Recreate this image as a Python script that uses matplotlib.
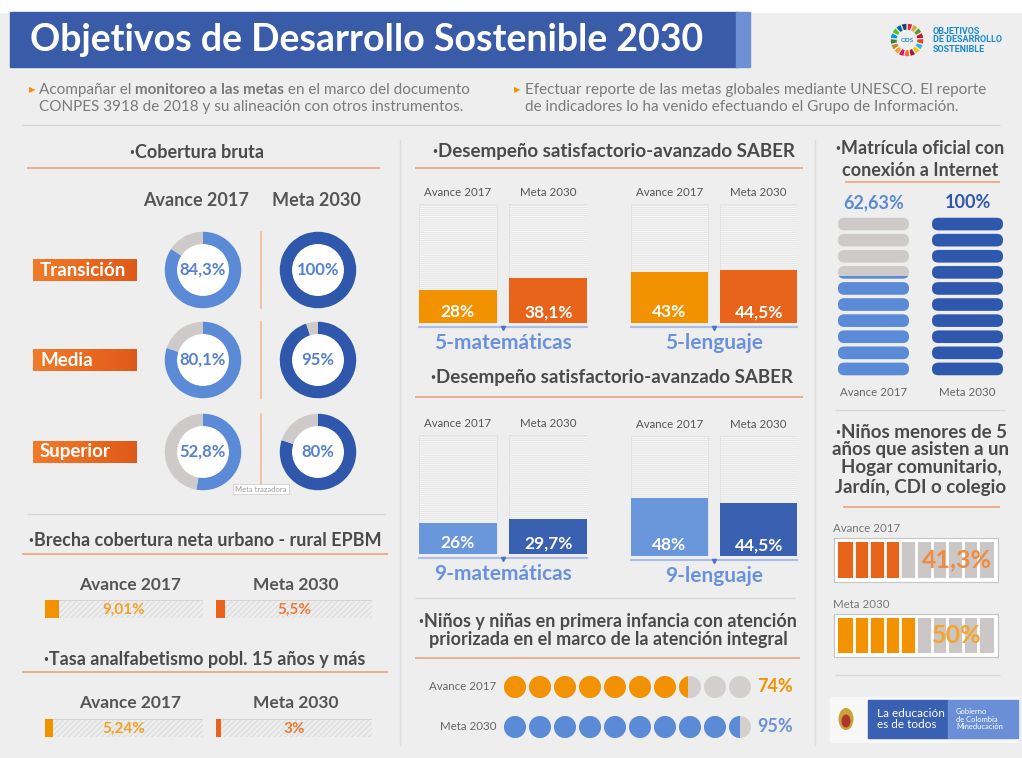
import numpy as np
import matplotlib
matplotlib.use("Agg")
import matplotlib.pyplot as plt
from matplotlib.colors import LinearSegmentedColormap
from matplotlib.patches import Rectangle, FancyBboxPatch, Circle, Ellipse

W, H = 1022, 758

cob_levels = ["Transición", "Media", "Superior"]
cob_avance = [84.3, 80.1, 52.8]
cob_meta = [100, 95, 80]

saber_top = ["5-matemáticas", "5-lenguaje"]
saber_top_avance = [28, 43]
saber_top_meta = [38.1, 44.5]
saber_bot = ["9-matemáticas", "9-lenguaje"]
saber_bot_avance = [26, 48]
saber_bot_meta = [29.7, 44.5]

brecha = [9.01, 5.5]          # avance 2017, meta 2030
analfab = [5.24, 3]
internet = [62.63, 100]
primera_inf = [74, 95]
hogar = [41.3, 50]

series_names = ["Avance 2017", "Meta 2030"]

# ---- colours ----
BG = "#eeeeee"
BLUE_HDR = "#3a5ba8"
ORANGE = "#e8641b"
ORANGE_L = "#f39200"
BLUE_L = "#5b8ad6"
BLUE_D = "#2f58ad"
GREY = "#cfcaca"
TXT = "#4a4a4a"
LINE_OR = "#eba27c"
BUL = "\u2219"

plt.rcParams["font.family"] = ["Lato", "DejaVu Sans"]
plt.rcParams["hatch.linewidth"] = 0.5


def fmt(v):
    return f"{v:g}".replace(".", ",") + "%"


fig = plt.figure(figsize=(W / 100, H / 100), dpi=100)
fig.patch.set_facecolor(BG)
bg = fig.add_axes([0, 0, 1, 1])
bg.set_xlim(0, W)
bg.set_ylim(H, 0)
bg.axis("off")


def sub_axes(x0, y0, x1, y1):
    a = fig.add_axes([x0 / W, 1 - y1 / H, (x1 - x0) / W, (y1 - y0) / H])
    a.axis("off")
    return a


def hline(x0, x1, y, color=LINE_OR, lw=1.2):
    bg.plot([x0, x1], [y, y], color=color, lw=lw, solid_capstyle="butt")


def title(xc, y, text, size=13):
    bg.text(xc, y, text, ha="center", va="center", fontsize=size,
            weight="bold", color=TXT)


# ---- header ----
bg.add_patch(Rectangle((0, 0), W, 12, color="white"))
bg.add_patch(Rectangle((10, 12), 728, 55, color=BLUE_HDR))
bg.add_patch(Rectangle((736, 12), 14, 55, color="#6d8fd3"))
bg.text(30, 40, "Objetivos de Desarrollo Sostenible 2030", color="white",
        fontsize=27, weight="bold", va="center")

sdg = ["#E5243B", "#DDA63A", "#4C9F38", "#C5192D", "#FF3A21", "#26BDE2",
       "#FCC30B", "#A21942", "#FD6925", "#DD1367", "#FD9D24", "#BF8B2E",
       "#3F7E44", "#0A97D9", "#56C02B", "#00689D", "#19486A"]
la = sub_axes(886, 19, 928, 61)
la.pie([1] * 17, colors=sdg, startangle=90, counterclock=False,
       wedgeprops=dict(width=0.42, edgecolor=BG, lw=0.8))
la.text(0, 0, "ODS", ha="center", va="center", fontsize=4.5,
        color="#1a8bd0", weight="bold")
bg.text(933, 40, "OBJETIVOS\nDE DESARROLLO\nSOSTENIBLE", ha="left", va="center",
        fontsize=6.5, weight="bold", color="#1a8bd0", linespacing=1.0,
        family="Roboto")

# ---- intro text ----
renderer = fig.canvas.get_renderer()


def rich(x, y, parts, **kw):
    for s, w in parts:
        t = bg.text(x, y, s, weight=w, **kw)
        x += t.get_window_extent(renderer=renderer).width


sub_kw = dict(fontsize=11, color="#7a7a7a", va="center")
for bx in (29, 514):
    bg.text(bx, 90, "\u25B6", fontsize=6, color=ORANGE_L, va="center",
            family="DejaVu Sans")
rich(39, 90, [("Acompañar el ", "normal"), ("monitoreo a las metas", "bold"),
              (" en el marco del documento", "normal")], **sub_kw)
bg.text(39, 107, "CONPES 3918 de 2018 y su alineación con otros instrumentos.",
        **sub_kw)
bg.text(525, 90, "Efectuar reporte de las metas globales mediante UNESCO. El reporte",
        **sub_kw)
bg.text(525, 107, "de indicadores lo ha venido efectuando el Grupo de Información.",
        **sub_kw)
hline(22, 1000, 125, color="#d6d6d6", lw=1)

# column dividers
bg.plot([400, 400], [140, 745], color="#dddddd", lw=1)
bg.plot([815, 815], [140, 745], color="#dddddd", lw=1)

# ---- Cobertura bruta ----
title(197, 152, BUL + "Cobertura bruta")
hline(27, 380, 168)
bg.text(196, 201, series_names[0], ha="center", va="center", fontsize=13,
        weight="bold", color="#555555")
bg.text(316, 201, series_names[1], ha="center", va="center", fontsize=13,
        weight="bold", color="#555555")
label_cmap = LinearSegmentedColormap.from_list("lab", ["#f07a2a", "#ea6a1f", "#de5a1a"])
grad = np.linspace(0, 1, 64).reshape(1, -1)
row_y = [270, 360, 452]
for lvl, va_, vm, y in zip(cob_levels, cob_avance, cob_meta, row_y):
    bg.imshow(grad, cmap=label_cmap, extent=(33, 137, y + 11, y - 11),
              aspect="auto", interpolation="bilinear")
    bg.text(40, y, lvl, color="white", fontsize=13.5, weight="bold", va="center")
    bg.plot([261, 261], [y - 38, y + 38], color="#efb796", lw=1.2)
    for cx, v, col in ((203, va_, BLUE_L), (318, vm, BLUE_D)):
        a = sub_axes(cx - 39, y - 39, cx + 39, y + 39)
        a.pie([v, 100 - v], colors=[col, GREY], startangle=90, counterclock=False,
              wedgeprops=dict(width=0.34, edgecolor="none"))
        a.add_patch(Circle((0, 0), 0.66, color="white"))
        a.set_xlim(-1.02, 1.02)
        a.set_ylim(-1.02, 1.02)
        a.set_aspect("equal")
        a.text(0, 0, fmt(v), ha="center", va="center", fontsize=12,
               weight="bold", color="#5680d0")
bg.set_xlim(0, W)
bg.set_ylim(H, 0)
bg.text(261, 489, "Meta trazadora", ha="center", va="center", fontsize=5.5,
        color="#9a9a9a", bbox=dict(boxstyle="square,pad=0.25", fc="white",
                                   ec="#d0d0d0", lw=0.6))
hline(27, 385, 514, color="#d6d6d6", lw=1)


# ---- progress bars (brecha / analfabetismo) ----
def progress(x0, x1, y0, y1, value, color, tcolor):
    a = sub_axes(x0, y0, x1, y1)
    a.set_xlim(0, 100)
    a.set_ylim(0, 1)
    a.barh(0.5, 100, height=1, color="#ededed", edgecolor="#d4d4d4",
           hatch="//////", lw=0.7)
    a.barh(0.5, value, height=1, color=color)
    a.text(50, 0.45, fmt(value), ha="center", va="center", color=tcolor,
           weight="bold", fontsize=11)


def progress_block(ytitle, text, yline, yhead, ybar, vals):
    title(205, ytitle, text)
    hline(22, 388, yline)
    bg.text(130, yhead, series_names[0], ha="center", va="center", fontsize=12.5,
            weight="bold", color="#555555")
    bg.text(296, yhead, series_names[1], ha="center", va="center", fontsize=12.5,
            weight="bold", color="#555555")
    progress(45, 203, ybar, ybar + 18, vals[0], ORANGE_L, "#f2a227")
    progress(216, 372, ybar, ybar + 18, vals[1], ORANGE, "#ec7a35")


progress_block(541, BUL + "Brecha cobertura neta urbano - rural EPBM", 554, 585, 600, brecha)
progress_block(659, BUL + "Tasa analfabetismo pobl. 15 años y más", 672, 703, 719, analfab)


# ---- SABER bars ----
def saber_pair(x0, x1, y0, y1, vals, colors, name):
    a = sub_axes(x0, y0, x1, y1)
    w = 0.857
    pos = [0, 1]
    a.set_xlim(-w / 2, 1 + w / 2)
    a.set_ylim(0, 100)
    a.bar(pos, [100, 100], width=w, color="#f5f5f5", edgecolor="#e1e1e1",
          hatch="--------", lw=0.6)
    a.bar(pos, vals, width=w, color=colors)
    for p, v, lab in zip(pos, vals, series_names):
        a.text(p, 9, fmt(v), ha="center", va="center", color="white",
               weight="bold", fontsize=12.5)
        a.text(p, 110, lab, ha="center", va="center", fontsize=8.3,
               color="#555555", clip_on=False)
    a.plot([-w / 2, 1 + w / 2], [-3.5, -3.5], color="#aabfe8", lw=1.5,
           clip_on=False)
    a.plot([0.5], [-4.5], marker="v", color="#4a76c8", ms=3, clip_on=False)
    a.text(0.5, -17, name, ha="center", va="center", fontsize=15,
           weight="bold", color="#6a92dc", clip_on=False)


title(614, 152, BUL + "Desempeño satisfactorio-avanzado SABER", size=13.5)
hline(415, 803, 168)
saber_pair(419, 587, 204, 323, [saber_top_avance[0], saber_top_meta[0]],
           [ORANGE_L, ORANGE], saber_top[0])
saber_pair(631, 797, 204, 323, [saber_top_avance[1], saber_top_meta[1]],
           [ORANGE_L, ORANGE], saber_top[1])

title(612, 378, BUL + "Desempeño satisfactorio-avanzado SABER", size=13.5)
hline(415, 803, 397)
saber_pair(419, 587, 435, 554, [saber_bot_avance[0], saber_bot_meta[0]],
           ["#6a96dc", "#3a60b2"], saber_bot[0])
saber_pair(631, 797, 436, 556, [saber_bot_avance[1], saber_bot_meta[1]],
           ["#6a96dc", "#3a60b2"], saber_bot[1])

# ---- primera infancia dots ----
hline(415, 795, 598, color="#d6d6d6", lw=1)
title(608, 622, BUL + "Niños y niñas en primera infancia con atención")
title(608, 640, "priorizada en el marco de la atención integral")
hline(415, 800, 658)
dot_rows = [(687, ORANGE_L, ORANGE_L), (727, BLUE_L, "#6a92dc")]
r = 11
for (y, col, tcol), name, v in zip(dot_rows, series_names, primera_inf):
    bg.text(496, y, name, ha="right", va="center", fontsize=8.3, color="#666666")
    for i in range(10):
        cx = 515 + 25 * i
        frac = min(max(v / 10 - i, 0), 1)
        bg.add_patch(Circle((cx, y), r, color="#d3cfcf", lw=0))
        if frac > 0:
            c = Circle((cx, y), r, color=col, lw=0)
            bg.add_patch(c)
            clip = Rectangle((cx - r, y - r), 2 * r * frac, 2 * r,
                             transform=bg.transData)
            c.set_clip_path(clip)
    bg.text(757, y, fmt(v), ha="left", va="center", fontsize=13,
            weight="bold", color=tcol)

# ---- Matrícula con internet ----
title(920, 148, BUL + "Matrícula oficial con")
title(920, 170, "conexión a Internet")
hline(845, 1000, 182)
pill_top, pill_bot = 216, 377
slot = (pill_bot - pill_top) / 10
ph = slot * 0.78
for (x0, x1), v, col, name in zip([(838, 909), (932, 1003)], internet,
                                  [BLUE_L, BLUE_D], series_names):
    level = pill_bot - (pill_bot - pill_top) * v / 100
    for i in range(10):
        py = pill_top + i * slot + (slot - ph) / 2
        style = f"round,pad=0,rounding_size={ph / 2}"
        bg.add_patch(FancyBboxPatch((x0, py), x1 - x0, ph, boxstyle=style,
                                    fc=GREY, ec="none"))
        p = FancyBboxPatch((x0, py), x1 - x0, ph, boxstyle=style,
                           fc=col, ec="none")
        bg.add_patch(p)
        p.set_clip_path(Rectangle((x0 - 2, level), x1 - x0 + 4, pill_bot - level + 2,
                                  transform=bg.transData))
    xc = (x0 + x1) / 2
    bg.text(xc, 203, fmt(v), ha="center", va="center", fontsize=13,
            weight="bold", color=col)
    bg.text(xc, 392, name, ha="center", va="center", fontsize=8.3,
            color="#666666")
hline(835, 1005, 410, color="#d6d6d6", lw=1)

# ---- Niños menores de 5 años ----
for y, line in zip([432, 450, 468, 487], [BUL + "Niños menores de 5", "años que asisten a un",
                                          "Hogar comunitario,", "Jardín, CDI o colegio"]):
    title(921, y, line, size=13.5)
hline(843, 1000, 507)
for (ylab, y0, y1), name, v, col, tcol in zip(
        [(528, 538, 582), (605, 614, 657)], series_names, hogar,
        [ORANGE, ORANGE_L], ["#f08a3f", "#f5a52a"]):
    bg.text(833, ylab, name, ha="left", va="center", fontsize=8.3, color="#777777")
    bg.add_patch(Rectangle((834, y0), 164, y1 - y0, fc="white", ec="#c4c4c4", lw=0.8))
    a = sub_axes(838, y0 + 4, 994, y1 - 4)
    a.set_xlim(0, 100)
    a.set_ylim(0, 1)
    a.barh(0.5, 100, height=1, color="#cbc7c7")
    a.barh(0.5, v, height=1, color=col)
    for k in range(1, 10):
        a.axvline(10 * k, color="white", lw=2)
    a.text(76, 0.5, fmt(v), ha="center", va="center", fontsize=18,
           weight="bold", color=tcol)
hline(835, 1000, 675, color="#d6d6d6", lw=1)

# ---- bottom logo ----
bg.add_patch(Rectangle((830, 697), 188, 46, fc="#f7f7f7", ec="none"))
bg.add_patch(Ellipse((846, 719), 15, 22, fc="#c9a23a", ec="none"))
bg.add_patch(Ellipse((846, 721), 9, 13, fc="#b2352c", ec="none"))
bg.add_patch(Rectangle((868, 700), 80, 38, color="#3a60b2"))
bg.add_patch(Rectangle((948, 700), 70, 38, color="#6a8fd6"))
bg.text(877, 719, "La educación\nes de todos", color="white", fontsize=8.5,
        va="center", ha="left", linespacing=1.0)
bg.text(956, 719, "Gobierno\nde Colombia\nMineducación", color="white",
        fontsize=5.4, va="center", ha="left", linespacing=1.05)

fig.savefig("out.png", dpi=100, facecolor=BG)
